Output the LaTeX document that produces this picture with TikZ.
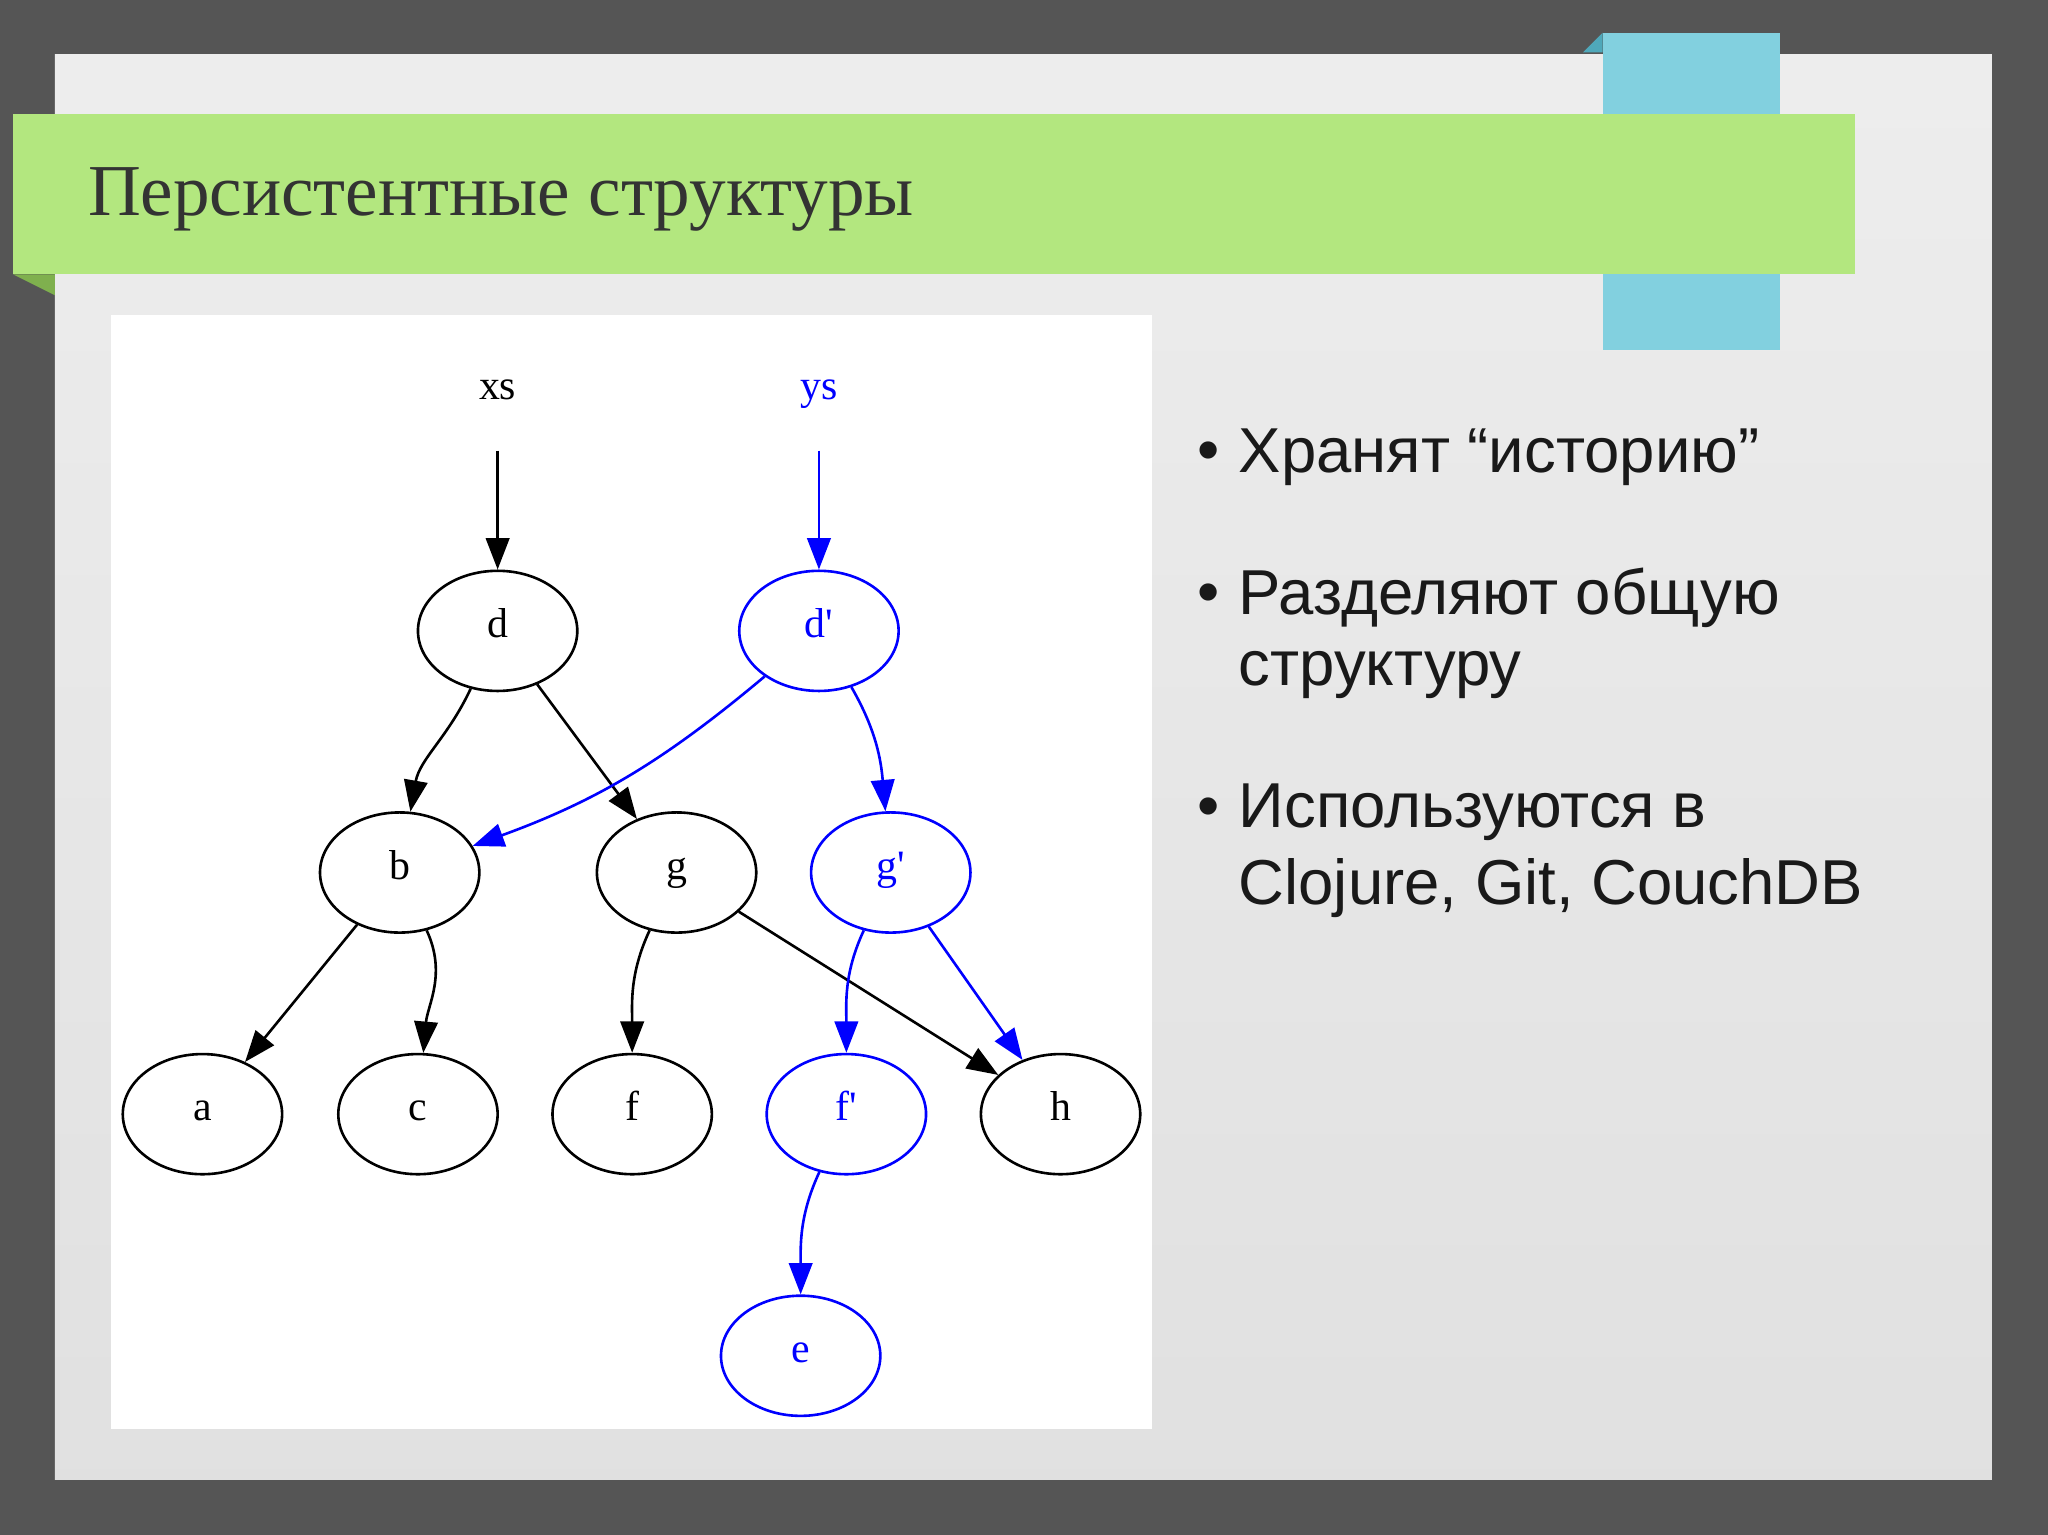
\documentclass[tikz,border=0pt]{standalone}
\usepackage{fontspec}
\setmainfont{Liberation Serif}
\newfontfamily\gvfont{Liberation Serif}
\newfontfamily\bulletfont{Liberation Sans}
\usetikzlibrary{arrows.meta,shapes.geometric}
\definecolor{bgdark}{HTML}{555555}
\definecolor{banner}{HTML}{B3E77F}
\definecolor{bannerdark}{HTML}{7FB04E}
\definecolor{cyanbox}{HTML}{82D0DF}
\definecolor{cyandark}{HTML}{4FA8BA}
\definecolor{gvblue}{HTML}{0000FF}
\tikzset{
 gnode/.style={ellipse,draw,line width=1pt,minimum width=61pt,minimum height=46pt,inner sep=0pt,text height=7pt,text depth=2pt,font=\gvfont\fontsize{16}{16}\selectfont},
 bnode/.style={gnode,draw=gvblue,text=gvblue},
 lbl/.style={font=\gvfont\fontsize{16}{16}\selectfont,inner sep=0pt,text height=8pt,text depth=2pt},
 edge/.style={line width=1pt,-{Triangle[length=12pt,width=9pt]}},
 bedge/.style={edge,draw=gvblue},
 btext/.style={font=\bulletfont\fontsize{24.3}{24.3}\selectfont,anchor=west,inner sep=0pt,text=black!90}
}
\begin{document}
\begin{tikzpicture}[x=0.5pt,y=-0.5pt]
\useasboundingbox (0,0) rectangle (1568,1175);
\fill[bgdark] (0,0) rectangle (1568,1175);
\shade[top color=white!93!black,bottom color=white!88!black] (42,42) rectangle (1525,1133);
\fill[cyandark] (1212,40) -- (1227,25) -- (1227,40) -- cycle;
\fill[cyanbox] (1227,25) rectangle (1363,268);
\fill[bannerdark] (10,210) -- (42,210) -- (42,226) -- cycle;
\fill[banner] (10,87) rectangle (1420,210);
\node[anchor=west,inner sep=0pt,font=\fontsize{28}{28}\selectfont,text=black!80] (title) at (67,153) {Персистентные структуры};
\fill[white] (85,241) rectangle (882,1094);
% graph
\node[lbl] (xs) at (381,300) {xs};
\node[lbl,text=gvblue] (ys) at (627,300) {ys};
\coordinate (xsb) at (381,345);
\coordinate (ysb) at (627,345);
\node[gnode] (d) at (381,483) {d};
\node[bnode] (dp) at (627,483) {d'};
\node[gnode] (b) at (306,668) {b};
\node[gnode] (g) at (518,668) {g};
\node[bnode] (gp) at (682,668) {g'};
\node[gnode] (a) at (155,853) {a};
\node[gnode] (c) at (320,853) {c};
\node[gnode] (f) at (484,853) {f};
\node[bnode] (fp) at (648,853) {f'};
\node[gnode] (h) at (812,853) {h};
\node[bnode] (e) at (613,1038) {e};
\draw[edge] (xsb) -- (d);
\draw[bedge] (ysb) -- (dp);
\draw[edge] (d) to[out=-115,in=80] (b);
\draw[edge] (d) -- (g);
\draw[bedge] (dp) to[out=-140,in=20] (b);
\draw[bedge] (dp) to[out=-60,in=95] (gp);
\draw[edge] (b) -- (a);
\draw[edge] (b) to[out=-65,in=85] (c);
\draw[edge] (g) to[out=-115,in=90] (f);
\draw[edge] (g) -- (h);
\draw[bedge] (gp) to[out=-115,in=90] (fp);
\draw[bedge] (gp) -- (h);
\draw[bedge] (fp) to[out=-115,in=90] (e);
% bullets
\node[btext,anchor=center] (b1) at (925,350) {•};
\node[btext] (t1) at (948,350) {Хранят “историю”};
\node[btext,anchor=center] (b2) at (925,458) {•};
\node[btext] (t2) at (948,458) {Разделяют общую};
\node[btext] (t2b) at (948,517) {структуру};
\node[btext,anchor=center] (b3) at (925,622) {•};
\node[btext] (t3) at (948,622) {Используются в};
\node[btext] (t3b) at (948,680) {Clojure, Git, CouchDB};
\end{tikzpicture}
\end{document}
